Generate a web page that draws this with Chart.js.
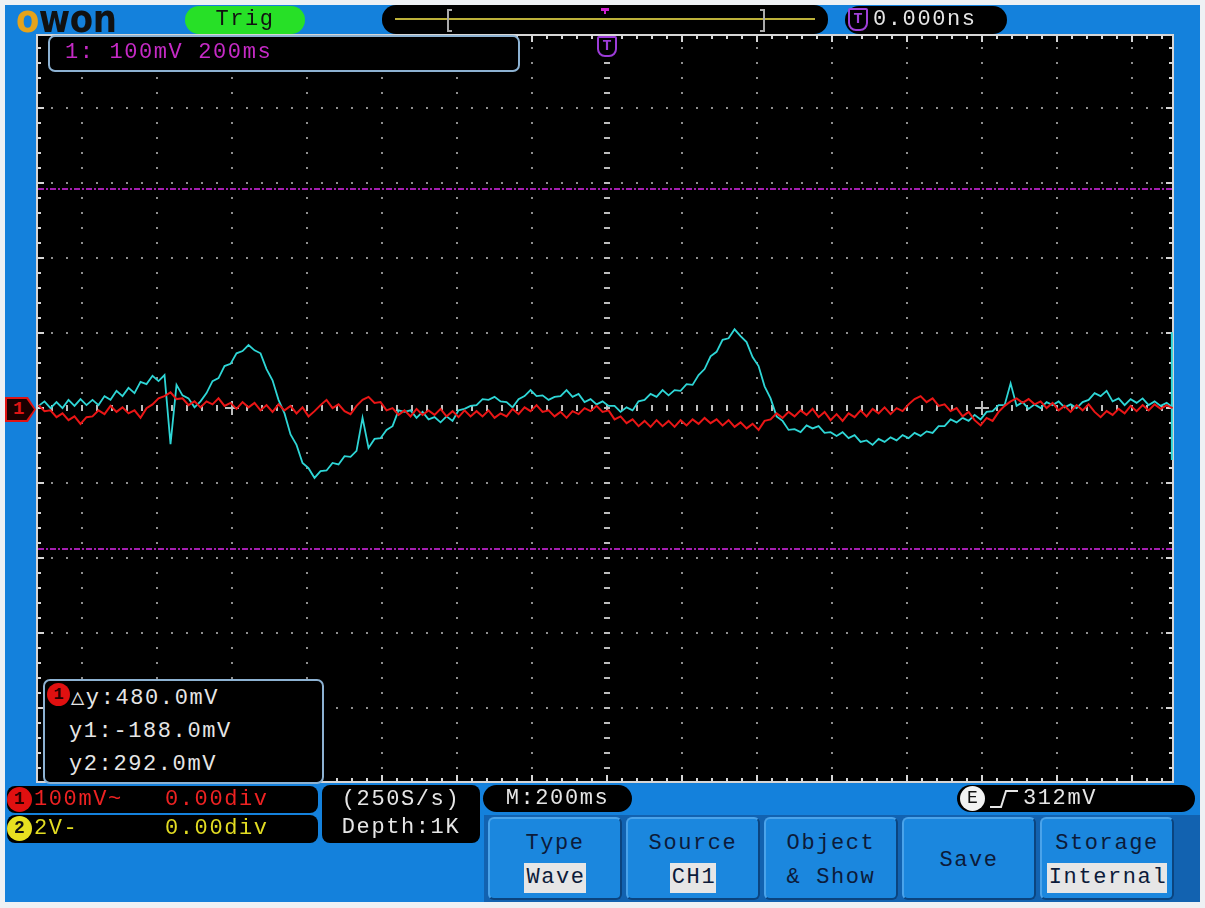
<!DOCTYPE html>
<html>
<head>
<meta charset="utf-8">
<title>OWON scope capture</title>
<script src="https://cdn.jsdelivr.net/npm/chart.js@4.4.0/dist/chart.umd.min.js"></script>
<style>
html, body { margin: 0; padding: 0; background: #eef1f4; }
#screen { position: relative; width: 1205px; height: 908px; overflow: hidden;
  font-family: "Liberation Mono", "DejaVu Sans Mono", monospace; font-size: 22px; letter-spacing: 1.6px; }
#panel { position: absolute; left: 5px; top: 5px; width: 1195px; height: 897px; background: #1481dc; }
#scope { position: absolute; left: 0; top: 0; }
.abs { position: absolute; white-space: pre; }
.blk { position: absolute; background: #000; }
.wht { color: #e6e6e6; }
.btn { position: absolute; top: 817px; width: 134px; height: 83px; box-sizing: border-box;
  background: #1b87de; border: 2px solid #0b447f; border-top-color: #4aa3ea; border-left-color: #4aa3ea;
  border-radius: 6px; color: #0c1b3a; text-align: center; }
.btn .t1 { position: absolute; left: 0; right: 0; top: 12px; }
.btn .t2 { position: absolute; left: 0; right: 0; top: 46px; }
.btn .hl { background: #e6e6e6; padding: 2px 0 3px 2px; }
.dot { position: absolute; border-radius: 50%; text-align: center; font-weight: bold; letter-spacing: 0; }
</style>
</head>
<body>
<div id="screen">
  <div id="panel"></div>
  <canvas id="scope" width="1205" height="908"></canvas>

  <!-- top bar -->
  <div class="abs" style="left:16px;top:2px;font-family:'DejaVu Sans';font-weight:bold;font-size:34px;line-height:34px;letter-spacing:-0.5px;transform:scaleY(1.1);"><span style="color:#e6a31a">o</span><span style="color:#111">won</span></div>
  <div class="abs" style="left:185px;top:6px;width:120px;height:28px;background:#27e027;border-radius:14px;text-align:center;line-height:28px;color:#111;">Trig</div>
  <div class="blk" style="left:382px;top:5px;width:446px;height:29px;border-radius:14px;">
    <div class="abs" style="left:13px;top:13px;width:420px;height:2px;background:#bdb23a;"></div>
    <div class="abs" style="left:65px;top:4px;width:3px;height:19px;border:2px solid #aaa;border-right:none;"></div>
    <div class="abs" style="left:378px;top:4px;width:3px;height:19px;border:2px solid #aaa;border-left:none;"></div>
    <div class="abs" style="left:219px;top:3px;width:8px;height:3px;background:#d020d0;"></div>
    <div class="abs" style="left:222px;top:5px;width:2px;height:4px;background:#d020d0;"></div>
  </div>
  <div class="blk" style="left:845px;top:6px;width:162px;height:28px;border-radius:14px;">
    <div class="abs" style="left:3px;top:2px;width:16px;height:19px;border:2px solid #a040d8;border-radius:2px 2px 8px 8px;color:#a040d8;font-size:15px;font-weight:bold;letter-spacing:0;text-align:center;line-height:19px;">T</div>
    <div class="abs wht" style="left:28px;top:0;line-height:28px;">0.000ns</div>
  </div>

  <!-- overlays on the screen -->
  <div class="blk" style="left:48px;top:35px;width:472px;height:37px;box-sizing:border-box;border:2px solid #8db2d2;border-radius:7px;">
    <div class="abs" style="left:15px;top:0;line-height:32px;color:#c62ac6;">1: 100mV 200ms</div>
  </div>
  <div class="abs" style="left:597px;top:36px;width:16px;height:17px;border:2px solid #9c3cd8;border-radius:2px 2px 8px 8px;background:#000;color:#9c3cd8;font-size:15px;font-weight:bold;letter-spacing:0;text-align:center;line-height:17px;">T</div>
  <div class="abs" style="left:5px;top:397px;width:31px;height:25px;background:#e01414;clip-path:polygon(0 0,74% 0,100% 50%,74% 100%,0 100%);">
    <div class="abs" style="left:2px;top:2px;width:27px;height:21px;background:#1a0000;clip-path:polygon(0 0,72% 0,100% 50%,72% 100%,0 100%);color:#e01414;font-weight:bold;font-size:19px;letter-spacing:0;line-height:21px;text-indent:6px;">1</div>
  </div>

  <div class="blk" style="left:43px;top:679px;width:281px;height:105px;box-sizing:border-box;border:2px solid #8db2d2;border-radius:7px;">
    <div class="dot" style="left:2px;top:2px;width:23px;height:23px;background:#e01010;color:#2a0000;font-size:17px;line-height:23px;">1</div>
    <div class="abs wht" style="left:26px;top:3px;line-height:30px;">△y:480.0mV</div>
    <div class="abs wht" style="left:24px;top:36px;line-height:30px;">y1:-188.0mV</div>
    <div class="abs wht" style="left:24px;top:69px;line-height:30px;">y2:292.0mV</div>
  </div>

  <!-- bottom status -->
  <div class="blk" style="left:7px;top:786px;width:311px;height:27px;border-radius:8px;">
    <div class="dot" style="left:0;top:1px;width:25px;height:25px;background:#e01010;color:#2a0000;font-size:18px;line-height:25px;">1</div>
    <div class="abs" style="left:27px;top:0;line-height:27px;color:#ee2222;">100mV~</div>
    <div class="abs" style="left:158px;top:0;line-height:27px;color:#ee2222;">0.00div</div>
  </div>
  <div class="blk" style="left:7px;top:815px;width:311px;height:28px;border-radius:8px;">
    <div class="dot" style="left:0;top:1px;width:25px;height:25px;background:#e8e020;color:#111;font-size:18px;line-height:25px;">2</div>
    <div class="abs" style="left:27px;top:0;line-height:28px;color:#e2dc22;">2V-</div>
    <div class="abs" style="left:158px;top:0;line-height:28px;color:#e2dc22;">0.00div</div>
  </div>
  <div class="blk wht" style="left:322px;top:785px;width:158px;height:58px;border-radius:8px;text-align:center;">
    <div class="abs" style="left:0;right:0;top:0;line-height:30px;">(250S/s)</div>
    <div class="abs" style="left:0;right:0;top:29px;line-height:28px;">Depth:1K</div>
  </div>
  <div class="blk wht" style="left:483px;top:785px;width:149px;height:27px;border-radius:14px;text-align:center;line-height:27px;">M:200ms</div>
  <div class="blk" style="left:957px;top:785px;width:238px;height:27px;border-radius:14px;">
    <div class="dot" style="left:3px;top:1px;width:25px;height:25px;background:#f2f2f2;color:#111;font-size:18px;font-weight:normal;line-height:25px;">E</div>
    <svg class="abs" style="left:32px;top:4px;" width="30" height="20"><polyline points="1,18 12,18 17,2 29,2" fill="none" stroke="#e6e6e6" stroke-width="2"/></svg>
    <div class="abs wht" style="left:66px;top:0;line-height:27px;">312mV</div>
  </div>

  <!-- menu -->
  <div class="abs" style="left:484px;top:815px;width:716px;height:87px;background:#1262b0;"></div>
  <div class="btn" style="left:488px;"><div class="t1">Type</div><div class="t2"><span class="hl">Wave</span></div></div>
  <div class="btn" style="left:626px;"><div class="t1">Source</div><div class="t2"><span class="hl">CH1</span></div></div>
  <div class="btn" style="left:764px;"><div class="t1">Object</div><div class="t2">&amp; Show</div></div>
  <div class="btn" style="left:902px;"><div class="t1" style="top:29px;">Save</div></div>
  <div class="btn" style="left:1040px;"><div class="t1">Storage</div><div class="t2"><span class="hl">Internal</span></div></div>
</div>

<script>
// sampling: 200 ms/div, 100 mV/div
const sampleStartMs = -1516;
const sampleStepMs = 16;

// reference trace (cyan), mV
const cyanMv = [
  3, 9, 0, 8, 0, 11, 3, 12, 4, 11,
  4, 16, 11, 23, 16, 27, 20, 35, 32, 43,
  36, 44, -48, 31, 17, 13, 1, 9, 20, 36,
  40, 56, 59, 73, 76, 84, 77, 73, 52, 37,
  11, -7, -35, -49, -73, -80, -93, -84, -83, -73,
  -75, -64, -65, -57, -13, -53, -41, -40, -29, -24,
  -3, -5, -3, -13, -5, -15, -12, -19, -11, -17,
  -3, -1, 3, 4, 12, 11, 15, 9, 8, 1,
  12, 16, 24, 16, 17, 11, 15, 16, 24, 15,
  19, 8, 12, 5, 9, 3, 3, -5, 1, -3,
  9, 11, 19, 15, 24, 17, 24, 23, 32, 31,
  44, 52, 69, 75, 91, 93, 105, 96, 88, 68,
  56, 29, 13, -11, -17, -29, -28, -32, -23, -27,
  -24, -33, -32, -37, -32, -40, -36, -45, -43, -49,
  -41, -45, -39, -43, -36, -40, -33, -37, -31, -33,
  -24, -24, -15, -19, -13, -17, -9, -15, -5, -4,
  4, 4, 33, 3, 8, -1, 5, 0, 8, 4,
  9, 1, 5, 0, 8, 11, 20, 16, 23, 9,
  13, 4, 12, 7, 13, 4, 9, 3, 7, 1
];

// CH1 (red), mV
const redMv = [
  4, -4, -3, -12, -7, -16, -11, -21, -12, -11,
  -3, -8, 3, -5, 1, -7, -3, -13, 0, 5,
  13, 16, 21, 12, 13, 4, 9, 1, 9, 5,
  13, 3, 7, -1, 8, 1, 7, -3, 4, -5,
  5, -3, 3, -7, 1, -11, -4, 4, 11, 0,
  5, -4, -8, 3, 11, 15, 7, 8, -3, 0,
  -9, -3, -11, -1, -9, -3, -9, -1, -11, -4,
  -12, -3, -11, -4, -11, -3, -13, -7, -11, -1,
  -8, 1, -4, 4, -5, -3, -11, -5, -13, -4,
  -8, 0, -4, 3, -5, -3, -15, -11, -20, -15,
  -24, -17, -25, -16, -24, -17, -25, -16, -23, -15,
  -21, -13, -20, -15, -23, -16, -25, -19, -27, -21,
  -29, -17, -15, -7, -13, -5, -11, -3, -9, -1,
  -12, -5, -16, -8, -17, -7, -12, -3, -11, -1,
  -7, 1, -8, 0, -4, 5, 12, 16, 8, 13,
  3, 5, -4, 0, -11, -5, -16, -23, -13, -17,
  -5, 3, 9, 13, 7, 12, 5, 9, 0, 7,
  -3, 3, -5, 4, -3, 5, -5, -12, -4, -9,
  -1, -7, 3, -4, 4, -3, 5, -1, 4, 0
];

// cyan trace wrap at the right edge
const edgeTimes = [1506, 1506];
const edgeMv = [101, -69];

// cursors y1 / y2
const cursorMv = [-188, 292];

// graticule
const gridTimes = [-1400, -1200, -1000, -800, -600, -400, -200, 0, 200, 400, 600, 800, 1000, 1200, 1400];
const gridMv = [-400, -300, -200, -100, 0, 100, 200, 300, 400];

const times = cyanMv.map((_, i) => sampleStartMs + i * sampleStepMs);
const pts = (xs, ys) => xs.map((t, i) => ({ x: t, y: ys[i] }));

const graticule = {
  id: 'graticule',
  beforeDatasetsDraw(chart) {
    const { ctx, chartArea: a, scales: { x, y } } = chart;
    ctx.save();
    ctx.fillStyle = '#000';
    ctx.fillRect(a.left, a.top, a.right - a.left, a.bottom - a.top);

    // dotted division lines
    ctx.fillStyle = '#8e8e8e';
    gridTimes.forEach(t => {
      const px = Math.round(x.getPixelForValue(t));
      for (let mv = -480; mv <= 480; mv += 20) {
        ctx.fillRect(px - 1, Math.round(y.getPixelForValue(mv)) - 1, 2, 2);
      }
    });
    gridMv.forEach(mv => {
      const py = Math.round(y.getPixelForValue(mv));
      for (let t = -1480; t <= 1480; t += 40) {
        ctx.fillRect(Math.round(x.getPixelForValue(t)) - 1, py - 1, 2, 2);
      }
    });

    // centre axes with sub ticks
    ctx.fillStyle = '#bdbdbd';
    const cx = Math.round(x.getPixelForValue(0));
    const cy = Math.round(y.getPixelForValue(0));
    for (let t = -1480; t <= 1480; t += 40) {
      ctx.fillRect(Math.round(x.getPixelForValue(t)) - 1, cy - 3, 2, 6);
    }
    for (let mv = -480; mv <= 480; mv += 20) {
      ctx.fillRect(cx - 3, Math.round(y.getPixelForValue(mv)) - 1, 6, 2);
    }
    [-1000, 1000].forEach(t => {
      const px = Math.round(x.getPixelForValue(t));
      ctx.fillRect(px - 7, cy - 1, 14, 2);
      ctx.fillRect(px - 1, cy - 7, 2, 14);
    });

    // frame ticks
    ctx.fillStyle = '#d6d6d6';
    for (let t = -1480; t <= 1480; t += 40) {
      const px = Math.round(x.getPixelForValue(t));
      const len = t % 200 === 0 ? 7 : 4;
      ctx.fillRect(px - 1, a.top, 2, len);
      ctx.fillRect(px - 1, a.bottom - len, 2, len);
    }
    for (let mv = -480; mv <= 480; mv += 20) {
      const py = Math.round(y.getPixelForValue(mv));
      const len = mv % 100 === 0 ? 7 : 4;
      ctx.fillRect(a.left, py - 1, len, 2);
      ctx.fillRect(a.right - len, py - 1, len, 2);
    }
    ctx.strokeStyle = '#d6d6d6';
    ctx.lineWidth = 2;
    ctx.strokeRect(a.left, a.top, a.right - a.left, a.bottom - a.top);
    ctx.restore();
  },
  afterDatasetsDraw(chart) {
    const { ctx, chartArea: a, scales: { y } } = chart;
    ctx.save();
    ctx.strokeStyle = '#a41fb0';
    ctx.lineWidth = 2;
    ctx.setLineDash([6, 2, 2, 2]);
    cursorMv.forEach(mv => {
      const py = Math.round(y.getPixelForValue(mv));
      ctx.beginPath();
      ctx.moveTo(a.left + 1, py);
      ctx.lineTo(a.right - 1, py);
      ctx.stroke();
    });
    ctx.restore();
  }
};

new Chart(document.getElementById('scope').getContext('2d'), {
  type: 'line',
  data: {
    datasets: [
      { label: 'CH1', data: pts(times, redMv), borderColor: '#ea1616', borderWidth: 2 },
      { label: 'REF', data: pts(times, cyanMv), borderColor: '#2ed6d6', borderWidth: 1.8 },
      { label: 'REF edge', data: pts(edgeTimes, edgeMv), borderColor: '#2ed6d6', borderWidth: 2 }
    ]
  },
  options: {
    responsive: false,
    devicePixelRatio: 1,
    animation: false,
    parsing: false,
    elements: { point: { radius: 0 }, line: { tension: 0 } },
    layout: { padding: { left: 37, top: 35, right: 32, bottom: 126 } },
    scales: {
      x: { type: 'linear', min: -1520, max: 1509, display: false },
      y: { type: 'linear', min: -498, max: 497, display: false }
    },
    plugins: { legend: { display: false }, tooltip: { enabled: false } }
  },
  plugins: [graticule]
});
</script>
</body>
</html>
